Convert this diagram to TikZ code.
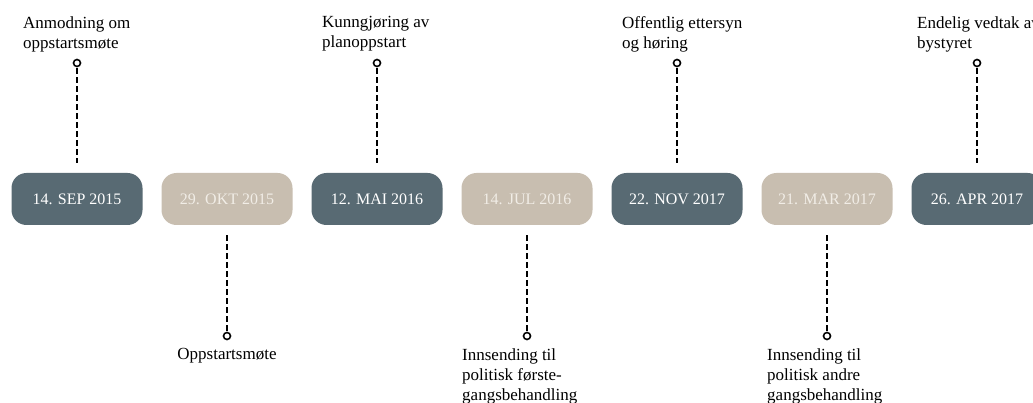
\documentclass[tikz,border=0pt]{standalone}
\usepackage{fontspec}
\setmainfont{Liberation Serif}
\definecolor{slate}{HTML}{586A73}
\definecolor{sand}{HTML}{C8BEB0}
\definecolor{sandtext}{HTML}{F1EDE6}
\begin{document}
\begin{tikzpicture}[x=1pt,y=-1pt,
  datebox/.style={rounded corners=15pt, minimum width=131pt, minimum height=52pt,
    inner sep=0pt, font=\fontsize{16}{18}\selectfont},
  darkbox/.style={datebox, fill=slate, text=white},
  lightbox/.style={datebox, fill=sand, text=sandtext},
  pin/.style={circle, draw=black, line width=1.6pt, fill=white,
    inner sep=0pt, minimum size=7pt},
  label/.style={align=left, inner sep=0pt, text=black,
    font=\fontsize{17}{20}\selectfont},
  conn/.style={draw=black, line width=2.2pt, dash pattern=on 6pt off 3pt}]
\clip (0,0) rectangle (1033,403);
\fill[white] (0,0) rectangle (1033,403);

% date boxes along the timeline
\node[darkbox]  (d1) at (77,199)  {14. SEP 2015};
\node[lightbox] (d2) at (227,199) {29. OKT 2015};
\node[darkbox]  (d3) at (377,199) {12. MAI 2016};
\node[lightbox] (d4) at (527,199) {14. JUL 2016};
\node[darkbox]  (d5) at (677,199) {22. NOV 2017};
\node[lightbox] (d6) at (827,199) {21. MAR 2017};
\node[darkbox]  (d7) at (977,199) {26. APR 2017};

% milestones above the timeline
\node[pin] (p1) at (77,63) {};
\node[pin] (p3) at (377,63) {};
\node[pin] (p5) at (677,63) {};
\node[pin] (p7) at (977,63) {};
\node[label, anchor=north west] (t1) at (23,16.5)  {Anmodning om\\oppstartsmøte};
\node[label, anchor=north west] (t3) at (322,16.5) {Kunngjøring av\\planoppstart};
\node[label, anchor=north west] (t5) at (622,16.5) {Offentlig ettersyn\\og høring};
\node[label, anchor=north west] (t7) at (917,16.5) {Endelig vedtak av\\bystyret};
\foreach \i in {1,3,5,7}
  \draw[conn, shorten <=1pt, shorten >=10pt] (p\i.south) -- (d\i.north);

% milestones below the timeline
\node[pin] (p2) at (227,336) {};
\node[pin] (p4) at (527,336) {};
\node[pin] (p6) at (827,336) {};
\node[label, anchor=north] (t2) at (227,348.3) {Oppstartsmøte};
\node[label, anchor=north west] (t4) at (462,348.3) {Innsending til\\politisk første-\\gangsbehandling};
\node[label, anchor=north west] (t6) at (767,348.3) {Innsending til\\politisk andre\\gangsbehandling};
\foreach \i in {2,4,6}
  \draw[conn, shorten <=10pt, shorten >=1pt] (d\i.south) -- (p\i.north);
\end{tikzpicture}
\end{document}
